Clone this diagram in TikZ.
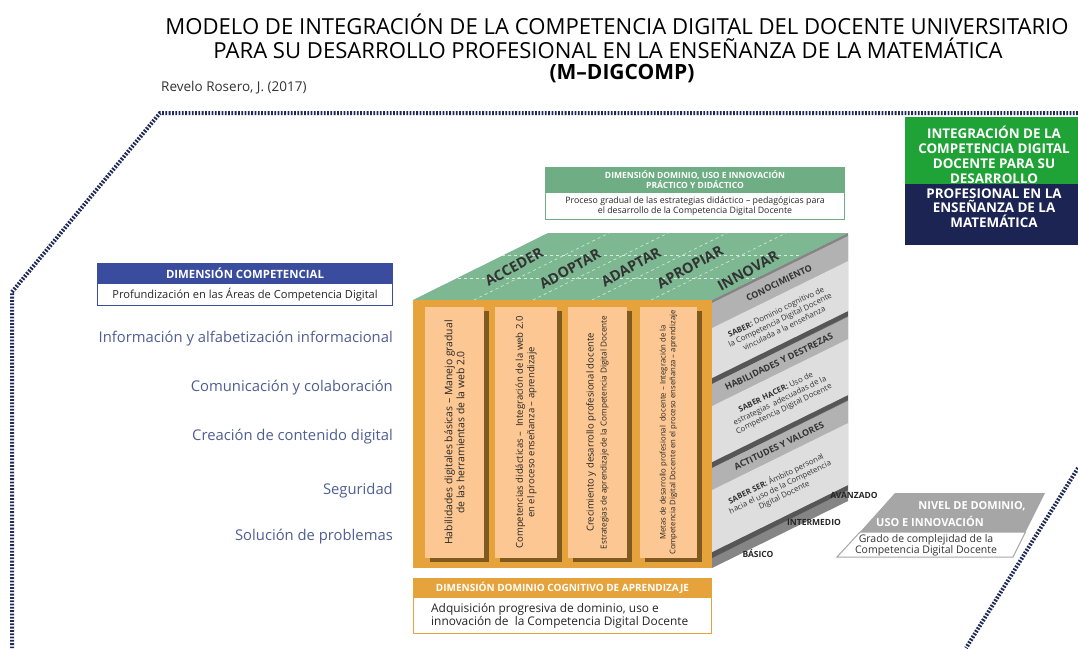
\documentclass[tikz,border=0pt]{standalone}
\usepackage{fontspec}
\setmainfont{Open Sans}
\usetikzlibrary{calc}
\definecolor{navy}{HTML}{1F2A56}
\definecolor{dgreen}{HTML}{1FA236}
\definecolor{dnavy}{HTML}{1B2452}
\definecolor{sgreen}{HTML}{6FAE84}
\definecolor{topgreen}{HTML}{7DB892}
\definecolor{cblue}{HTML}{3A4C9E}
\definecolor{listblue}{HTML}{4F5E92}
\definecolor{orng}{HTML}{E6A33B}
\definecolor{peach}{HTML}{FCC792}
\definecolor{gbase}{HTML}{858585}
\definecolor{ghead}{HTML}{B2B2B2}
\definecolor{gbody}{HTML}{DEDEDE}
\definecolor{gtext}{HTML}{333333}
\definecolor{nivel}{HTML}{A6A6A6}
\newcommand\fsz[2]{\fontsize{#1}{#2}\selectfont}
\begin{document}
\begin{tikzpicture}[x=1pt,y=-1pt,
  dotb/.style={draw=navy,line width=4pt,dash pattern=on 1.8pt off 1.5pt},
  txt/.style={inner sep=0pt,align=center},
  ttl/.style={txt,font=\fsz{22.1}{26}},
  listt/.style={txt,anchor=east,text=listblue,font=\fsz{14.8}{16}},
  coltxt/.style={txt,rotate=90,text=black!85},
  toplab/.style={txt,rotate=29,font=\bfseries\fsz{14.3}{16},text=black!80},
  panelhd/.style={txt,rotate=26,font=\bfseries\fsz{9}{10},text=gtext},
  panelbd/.style={txt,rotate=26,font=\fsz{7.8}{9.2},text=gtext},
  lvl/.style={txt,font=\bfseries\fsz{8.5}{10},text=black!85},
  shade/.style={fill=black,opacity=0.45}
]
\useasboundingbox (0,0) rectangle (1078,648);
\fill[white] (0,0) rectangle (1078,648);

% ---------- titles
\node[ttl] (t1) at (617,24) {MODELO DE INTEGRACIÓN DE LA COMPETENCIA DIGITAL DEL DOCENTE UNIVERSITARIO};
\node[ttl] (t2) at (608,48) {PARA SU DESARROLLO PROFESIONAL EN LA ENSEÑANZA DE LA MATEMÁTICA};
\node[txt,font=\bfseries\fsz{21}{24}] (t3) at (622,74) {(M–DIGCOMP)};
\node[txt,anchor=west,font=\fsz{13.5}{15},text=black!80] (auth) at (161,88) {Revelo Rosero, J. (2017)};

% ---------- dotted border
\coordinate (b1) at (1078,113);
\coordinate (b2) at (160,113);
\coordinate (b3) at (12,292);
\coordinate (b4) at (12,648);
\coordinate (b5) at (1078,468);
\coordinate (b6) at (966,648);
\draw[dotb] (b1) -- (b2) -- (b3) -- (b4);
\draw[dotb] (b5) -- (b6);

% ---------- top-right box
\fill[dgreen] (905,117) rectangle (1078,184);
\fill[dnavy] (905,184) rectangle (1078,245);
\node[txt,text=white,font=\bfseries\fsz{13.4}{15}] (rg) at (994,154.5) {INTEGRACIÓN DE LA\\COMPETENCIA DIGITAL\\DOCENTE PARA SU\\DESARROLLO};
\node[txt,text=white,font=\bfseries\fsz{13.4}{14.5}] (rn) at (994,208) {PROFESIONAL EN LA\\ENSEÑANZA DE LA\\MATEMÁTICA};

% ---------- top green box
\node[fill=sgreen,minimum width=300,minimum height=25,inner sep=0pt,text=white,align=center,font=\bfseries\fsz{8.5}{9}] (gh) at (695,179.5) {DIMENSIÓN DOMINIO, USO E INNOVACIÓN\\PRÁCTICO Y DIDÁCTICO};
\node[draw=sgreen,line width=1.2pt,fill=white,minimum width=298.8,minimum height=27,inner sep=0pt,align=center,font=\fsz{8.8}{10},text=black!85,anchor=north] (gb) at (gh.south) {Proceso gradual de las estrategias didáctico – pedagógicas para\\el desarrollo de la Competencia Digital Docente};

% ---------- left blue box
\node[fill=cblue,minimum width=296,minimum height=20,inner sep=0pt,text=white,font=\bfseries\fsz{11.4}{12}] (bh) at (245,273) {DIMENSIÓN COMPETENCIAL};
\node[draw=cblue,line width=1pt,fill=white,minimum width=295,minimum height=22,inner sep=0pt,font=\fsz{11.1}{12},text=black!85,anchor=north] (bb) at (bh.south) {Profundización en las Áreas de Competencia Digital};

\node[listt] (l1) at (393,339) {Información y alfabetización informacional};
\node[listt] (l2) at (393,388) {Comunicación y colaboración};
\node[listt] (l3) at (393,437) {Creación de contenido digital};
\node[listt] (l4) at (393,491) {Seguridad};
\node[listt] (l5) at (393,537) {Solución de problemas};

% ---------- cube
\coordinate (FL) at (413,300);
\coordinate (FR) at (712,300);
\coordinate (BR) at (848,233);
\coordinate (BL) at (548,233);
\coordinate (FBL) at (413,568);
\coordinate (FBR) at (712,568);
\coordinate (BBR) at (848,501);
% top face
\fill[topgreen] (FL) -- (FR) -- (BR) -- (BL) -- cycle;
\foreach \xf in {474,533,592,651}
  \draw[white,opacity=0.7,dashed,line width=0.6pt] (\xf,300) -- ++(135,-67);
\foreach \t in {0.33,0.66}
  \draw[white,opacity=0.7,dashed,line width=0.6pt] ($(FL)!\t!(BL)$) -- ($(FR)!\t!(BR)$);
\node[toplab] (a1) at (514,267) {ACCEDER};
\node[toplab] (a2) at (570,269) {ADOPTAR};
\node[toplab] (a3) at (631,267) {ADAPTAR};
\node[toplab] (a4) at (690,267) {APROPIAR};
\node[toplab] (a5) at (748,271) {INNOVAR};

% front face
\fill[orng] (FL) rectangle (FBR);
\foreach \xa/\xb in {425/484,495/557,568/627,640/697}{
  \fill[shade] (\xa+5,311) rectangle (\xb+5,562);
  \fill[peach] (\xa,307) rectangle (\xb,558);
}
\node[coltxt,font=\fsz{10.4}{12}] (c1) at (454.5,432.5) {Habilidades digitales básicas – Manejo gradual\\de las herramientas de la web 2.0};
\node[coltxt,font=\fsz{9.5}{11.5}] (c2) at (526,432.5) {Competencias didácticas –\ \ Integración de la web 2.0\\en el proceso enseñanza – aprendizaje};
\node[coltxt] (c3) at (597.5,432.5) {{\fsz{9.5}{11}\selectfont Crecimiento y desarrollo profesional docente}\\[1pt]{\fsz{8.2}{9.5}\selectfont Estrategias de aprendizaje de la Competencia Digital Docente}};
\node[coltxt,font=\fsz{7.7}{9.6}] (c4) at (668.5,432.5) {Metas de desarrollo profesional\ \ docente – Integración de la\\Competencia Digital Docente en el proceso enseñanza – aprendizaje};

% right face
\fill[gbase] (FR) -- (BR) -- (BBR) -- (FBR) -- cycle;
\foreach \ht/\hb/\bb in {303/328/378,384/406/462,468/490/552}{
  \fill[black,opacity=0.35] (712,\bb) -- (848,\bb-67) -- (848,\bb-62) -- (712,\bb+6) -- cycle;
  \fill[ghead] (712,\ht) -- (848,\ht-67) -- (848,\hb-67) -- (712,\hb) -- cycle;
  \fill[gbody] (712,\hb) -- (848,\hb-67) -- (848,\bb-67) -- (712,\bb) -- cycle;
}
\node[panelhd] (p1h) at (779,283) {CONOCIMIENTO};
\node[panelbd] (p1b) at (780,320) {\textbf{SABER:} Dominio cognitivo de\\la Competencia Digital Docente\\vinculada a la enseñanza};
\node[panelhd] (p2h) at (779,362) {HABILIDADES Y DESTREZAS};
\node[panelbd] (p2b) at (780,401) {\textbf{SABER HACER:} Uso de\\estrategias\ \ adecuadas de la\\Competencia Digital Docente};
\node[panelhd] (p3h) at (779,446) {ACTITUDES Y VALORES};
\node[panelbd] (p3b) at (780,487) {\textbf{SABER SER:} Ámbito personal\\hacia el uso de la Competencia\\Digital Docente};

% level labels
\node[lvl] (v3) at (854,495) {AVANZADO};
\node[lvl] (v2) at (814,522) {INTERMEDIO};
\node[lvl] (v1) at (758,554) {BÁSICO};

% nivel box
\fill[nivel] (895,493) -- (1045,493) -- (1025.5,532) -- (860,532) -- cycle;
\draw[nivel,line width=1pt,fill=white] (860,532) -- (1025.5,532) -- (1013,557) -- (837,557) -- cycle;
\node[txt,text=white,font=\bfseries\fsz{11}{11}] (n1) at (972,506) {NIVEL DE DOMINIO,};
\node[txt,text=white,font=\bfseries\fsz{11}{11}] (n2) at (930,521) {USO E INNOVACIÓN};
\node[txt,font=\fsz{10.5}{11.2},text=black!80] (n3) at (926,545) {Grado de complejidad de la\\Competencia Digital Docente};

% bottom orange box
\node[fill=orng,minimum width=299,minimum height=19,inner sep=0pt,text=white,font=\bfseries\fsz{10}{10}] (oh) at (562.5,587.5) {DIMENSIÓN DOMINIO COGNITIVO DE APRENDIZAJE};
\node[draw=orng,line width=1.2pt,fill=white,minimum width=297.8,minimum height=36,inner sep=0pt,anchor=north] (ob) at (oh.south) {};
\node[txt,align=left,anchor=west,font=\fsz{11.9}{11.5},text=black!85] (obt) at (431,616) {Adquisición progresiva de dominio, uso e\\innovación de\ \ la Competencia Digital Docente};
\end{tikzpicture}
\end{document}
